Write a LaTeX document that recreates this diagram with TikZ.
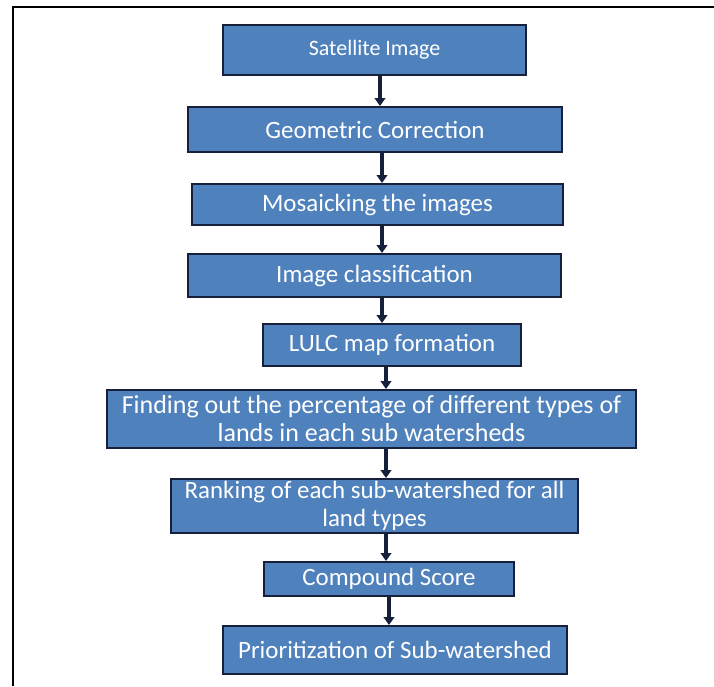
\documentclass[tikz,border=0pt]{standalone}
\usepackage{fontspec}
\setmainfont{Carlito}
\usetikzlibrary{arrows.meta}
\definecolor{boxblue}{HTML}{4F81BD}
\definecolor{boxedge}{HTML}{17203A}
\begin{document}
\begin{tikzpicture}[x=0.75pt, y=-0.75pt,
    main/.style = {draw=boxedge, line width=1.5pt, fill=boxblue, text=white, inner sep=0pt,
                   align=center, font=\fontsize{18.7}{21.5}\selectfont},
    link/.style = {draw=boxedge, line width=2.6pt, -{Triangle[width=8pt, length=6pt]}}]
    \useasboundingbox (0,0) rectangle (714,686);
    % frame
    \draw[line width=1.5pt] (714,7) -- (13,7) -- (13,686);

    \node[main, minimum width=227.25pt, minimum height=37.5pt, font=\fontsize{16.5}{20}\selectfont]
                                                                (1) at (374.5,50)  {Satellite Image};
    \node[main, minimum width=280.5pt,  minimum height=33.75pt] (2) at (375,129.5) {Geometric Correction};
    \node[main, minimum width=278.25pt, minimum height=30.75pt] (3) at (377.5,204.5) {Mosaicking the images};
    \node[main, minimum width=279.75pt, minimum height=32.25pt] (4) at (374.5,275.5) {Image classification};
    \node[main, minimum width=193.5pt,  minimum height=31.5pt]  (5) at (392,345)   {LULC map formation};
    \node[main, minimum width=396.75pt, minimum height=43.5pt, font=\fontsize{19.5}{21}\selectfont]
                                                                (6) at (371.5,419) {Finding out the percentage of different types of\\lands in each sub watersheds};
    \node[main, minimum width=305.25pt, minimum height=40.5pt, font=\fontsize{18.7}{21.5}\selectfont]
                                                                (7) at (374.5,506) {Ranking of each sub-watershed for all\\land types};
    \node[main, minimum width=187.5pt,  minimum height=25.5pt]  (8) at (389,579)   {Compound Score};
    \node[main, minimum width=258pt,    minimum height=36pt]    (9) at (395,650)   {Prioritization of Sub-watershed};

    \coordinate (a1) at (380,0);
    \coordinate (a2) at (382,0);
    \coordinate (a3) at (386,0);
    \coordinate (a4) at (389,0);

    \draw[link] (1.south -| a1) -- (2.north -| a1);
    \draw[link] (2.south -| a2) -- (3.north -| a2);
    \draw[link] (3.south -| a2) -- (4.north -| a2);
    \draw[link] (4.south -| a2) -- (5.north -| a2);
    \draw[link] (5.south -| a3) -- (6.north -| a3);
    \draw[link] (6.south -| a3) -- (7.north -| a3);
    \draw[link] (7.south -| a3) -- (8.north -| a3);
    \draw[link] (8.south -| a4) -- (9.north -| a4);
\end{tikzpicture}
\end{document}
